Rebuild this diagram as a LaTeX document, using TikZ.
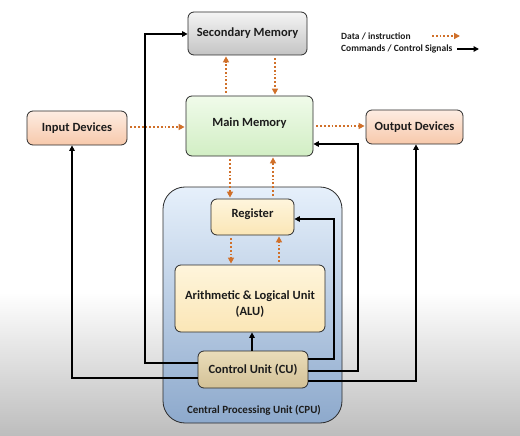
\documentclass[tikz,border=0pt]{standalone}
\usepackage{fontspec}
\setmainfont{Carlito}
\usetikzlibrary{arrows.meta}

\definecolor{dataorange}{HTML}{D0702A}
\definecolor{boxline}{HTML}{2B2B2B}
\definecolor{inktext}{HTML}{1C1C1C}
\definecolor{grayTop}{HTML}{F4F4F4}
\definecolor{grayBot}{HTML}{C4C4C4}
\definecolor{greenTop}{HTML}{F0FBEA}
\definecolor{greenBot}{HTML}{D2EEC4}
\definecolor{peachTop}{HTML}{FDECE2}
\definecolor{peachBot}{HTML}{F7C9AB}
\definecolor{creamTop}{HTML}{FEF5DC}
\definecolor{creamBot}{HTML}{FBE6B6}
\definecolor{tanTop}{HTML}{EADDBA}
\definecolor{tanBot}{HTML}{D3C196}
\definecolor{cpuTop}{HTML}{E6F0FB}
\definecolor{cpuBot}{HTML}{8DA9CC}

\tikzset{
  unit/.style={draw=boxline, line width=0.8pt, rounded corners=6pt, align=center,
               text=inktext, font=\bfseries\fontsize{12.5}{15}\selectfont, inner sep=0pt},
  graybox/.style={unit, top color=grayTop, bottom color=grayBot},
  greenbox/.style={unit, top color=greenTop, bottom color=greenBot},
  peachbox/.style={unit, top color=peachTop, bottom color=peachBot},
  creambox/.style={unit, top color=creamTop, bottom color=creamBot},
  tanbox/.style={unit, top color=tanTop, bottom color=tanBot},
  cpubox/.style={draw=boxline, line width=0.8pt, rounded corners=22pt,
                 top color=cpuTop, bottom color=cpuBot},
  data/.style={draw=dataorange, line width=1.8pt, dash pattern=on 1.8pt off 2pt,
               -{Triangle[length=6pt,width=6pt]}, shorten >=1pt},
  ctrl/.style={draw=black, line width=1.6pt, -{Triangle[length=5.5pt,width=5.5pt]}},
  legend/.style={font=\bfseries\fontsize{9.5}{11}\selectfont, text=inktext,
                 anchor=west, inner sep=0pt},
}

\begin{document}
\begin{tikzpicture}[x=1pt, y=-1pt]
  % canvas with a soft grey floor
  \fill[white] (0,0) rectangle (520,436);
  \shade[top color=white, bottom color=gray!52] (0,292) rectangle (520,436);
  \useasboundingbox (0,0) rectangle (520,436);

  % CPU container
  \node[cpubox, minimum width=179pt, minimum height=236pt] (cpu) at (252.5,305) {};
  \node[font=\bfseries\fontsize{11}{13}\selectfont, text=inktext] (cpulabel) at (254,410)
       {Central Processing Unit (CPU)};

  % units
  \node[graybox, minimum width=119pt, minimum height=43pt] (sec) at (247.5,33.5) {Secondary Memory};
  \node[greenbox, minimum width=127pt, minimum height=60pt, text depth=7pt] (mm) at (249.5,126) {Main Memory};
  \node[peachbox, minimum width=100pt, minimum height=34pt] (in) at (77,128) {Input Devices};
  \node[peachbox, minimum width=97pt, minimum height=34pt] (out) at (414.5,127) {Output Devices};
  \node[creambox, minimum width=83pt, minimum height=36pt, text depth=7pt] (reg) at (252.5,217) {Register};
  \node[creambox, minimum width=150pt, minimum height=67pt] (alu) at (250,298.5)
       {\rule{0pt}{20pt}Arithmetic \& Logical Unit\\[1pt](ALU)};
  \node[tanbox, minimum width=110pt, minimum height=37pt] (cu) at (253,369.5) {Control Unit (CU)};

  % legend
  \node[legend] (lgdata) at (341,36) {Data / instruction};
  \node[legend] (lgctrl) at (341,49) {Commands / Control Signals};
  \coordinate (ld1) at (432,36); \coordinate (ld2) at (461,36);
  \coordinate (lc1) at (457,49); \coordinate (lc2) at (479,49);
  \draw[data] (ld1) -- (ld2);
  \draw[ctrl] (lc1) -- (lc2);

  % data / instruction flow
  \draw[data] (226,0 |- mm.north) ++(0,-3) -- (226,0 |- sec.south);
  \draw[data] (275,0 |- sec.south) ++(0,3) -- (275,0 |- mm.north);
  \draw[data] (in.east) ++(3,-1) -- (mm.west |- 0,127);
  \draw[data] (mm.east |- 0,126) ++(3,0) -- (out.west |- 0,126);
  \draw[data] (230,0 |- mm.south) ++(0,3) -- (230,0 |- reg.north);
  \draw[data] (273,0 |- reg.north) ++(0,-3) -- (273,0 |- mm.south);
  \draw[data] (231,0 |- reg.south) ++(0,3) -- (231,0 |- alu.north);
  \draw[data] (279,0 |- alu.north) ++(0,-3) -- (279,0 |- reg.south);

  % control signals from the control unit
  \draw[ctrl] (252,0 |- cu.north) -- (252,0 |- alu.south);
  \draw[ctrl] (cu.east |- 0,359) -- (334,359) |- (reg.east |- 0,219);
  \draw[ctrl] (cu.west |- 0,363) -- (145,363) |- (sec.west |- 0,34);
  \draw[ctrl] (cu.west |- 0,378) -- (72,378) -- (72,0 |- in.south);
  \draw[ctrl] (cu.east |- 0,371) -- (358,371) |- (mm.east |- 0,144);
  \draw[ctrl] (cu.east |- 0,381) -- (416,381) -- (416,0 |- out.south);
\end{tikzpicture}
\end{document}
